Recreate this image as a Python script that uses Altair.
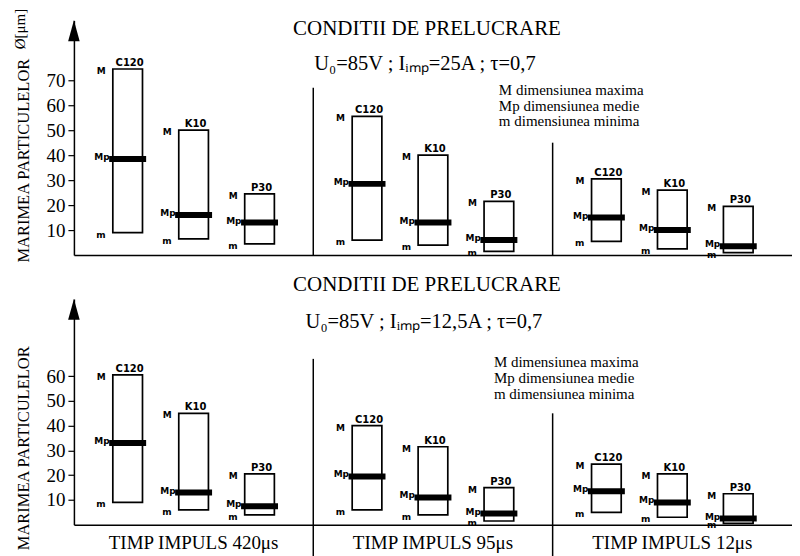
import altair as alt
import pandas as pd

groups = ["TIMP IMPULS 420μs", "TIMP IMPULS 95μs", "TIMP IMPULS 12μs"]
materials = ["C120", "K10", "P30"]

# upper panel, Iimp = 25A ; per group: C120, K10, P30
top_max = [74.5, 50, 24.5, 55.5, 40, 21.5, 30.5, 26, 19.5]
top_med = [38.5, 16, 13, 28.5, 13, 6, 15, 10, 3.5]
top_min = [9, 6.5, 4.5, 6, 4, 1.5, 5.5, 2.5, 1]
# lower panel, Iimp = 12,5A
bot_max = [60.5, 45, 20.5, 40, 31.5, 15, 24.5, 20.5, 12.5]
bot_med = [33, 13, 7.5, 19.5, 11, 4.5, 13.5, 9, 2.5]
bot_min = [9, 6, 4, 6, 4, 1.5, 5, 3, 0.5]

title_text = "CONDITII DE PRELUCRARE"
top_sub = "U₀=85V ; Iᵢₘₚ=25A ; τ=0,7"
bot_sub = "U₀=85V ; Iᵢₘₚ=12,5A ; τ=0,7"
legend_lines = ["M  dimensiunea maxima", "Mp  dimensiunea medie", "m  dimensiunea minima"]
y_title = "MARIMEA PARTICULELOR"
unit_label = "Ø[μm]"
top_ticks = [10, 20, 30, 40, 50, 60, 70]
bot_ticks = [10, 20, 30, 40, 50, 60]
divider_tops = [67, 45]

SERIF = "Liberation Serif"
SANS = "DejaVu Sans"
W = 719


def panel(mx, md, mn, ymax, height, ticks, sub, title_y, sub_y, leg_ys, leg_dx,
          arrow_y, div_bottom, show_labels, ytitle_y, sub_dx, unit_y=None):
    df = pd.DataFrame({
        "group": [g for g in groups for _ in materials],
        "material": materials * 3,
        "max": mx, "med": md, "min": mn,
    })
    xs = alt.Scale(domain=groups, paddingInner=0, paddingOuter=0)
    ys = alt.Scale(domain=[0, ymax], nice=False, zero=False)
    xoff = alt.XOffset("material:N", sort=materials,
                       scale=alt.Scale(domain=materials, paddingInner=0.55, paddingOuter=0.59))
    xaxis = alt.Axis(title=None, domain=True, domainColor="black", domainWidth=1.5,
                     ticks=False, labels=show_labels, labelFont=SERIF, labelFontSize=19,
                     labelColor="black", labelPadding=9, labelAngle=0, grid=False)
    yaxis = alt.Axis(title=y_title, values=ticks, domain=True, domainColor="black",
                     domainWidth=1.5, ticks=True, tickColor="black", tickSize=6,
                     tickWidth=1.2, labelFont=SERIF, labelFontSize=19, labelColor="black",
                     labelPadding=3, grid=False, titleFont=SERIF, titleFontSize=16.5,
                     titleFontWeight="normal", titleColor="black", titlePadding=14,
                     titleY=ytitle_y)

    def X(field="group:N", **kw):
        return alt.X(field, scale=xs, axis=xaxis, sort=groups, **kw)

    def Xd(datum, bp):
        return alt.X(datum=datum, scale=xs, axis=xaxis, bandPosition=bp)

    def Y(field):
        return alt.Y(field, scale=ys, axis=yaxis)

    def Yd(datum):
        return alt.Y(datum=datum, scale=ys, axis=yaxis)

    base = alt.Chart(df)

    bars = base.mark_bar(fill="white", stroke="black", strokeWidth=1.7).encode(
        x=X(), xOffset=xoff, y=Y("max:Q"), y2="min:Q")
    med = base.mark_tick(color="black", thickness=6, size=37, xOffset=2, opacity=1).encode(
        x=X(), xOffset=xoff, y=Y("med:Q"))
    mat = base.mark_text(font=SANS, fontSize=10, fontWeight="bold", baseline="bottom",
                         dy=-1, dx=2, color="black").encode(
        x=X(), xOffset=xoff, y=Y("max:Q"), text="material:N")
    lab_M = base.mark_text(font=SANS, fontSize=9, fontWeight="bold", align="right",
                           baseline="middle", dx=-22, dy=2, color="black").encode(
        x=X(), xOffset=xoff, y=Y("max:Q"), text=alt.value("M"))
    lab_Mp = base.mark_text(font=SANS, fontSize=9, fontWeight="bold", align="right",
                            baseline="bottom", dx=-18, dy=3, color="black").encode(
        x=X(), xOffset=xoff, y=Y("med:Q"), text=alt.value("Mp"))
    lab_m = base.mark_text(font=SANS, fontSize=9, fontWeight="bold", align="right",
                           baseline="top", dx=-22, dy=-2, color="black").encode(
        x=X(), xOffset=xoff, y=Y("min:Q"), text=alt.value("m"))

    div_df = pd.DataFrame({"group": groups[1:], "top": divider_tops,
                           "bottom": [div_bottom] * 2})
    dividers = alt.Chart(div_df).mark_rule(color="black", strokeWidth=1.5).encode(
        x=X(bandPosition=0), y=Y("top:Q"), y2="bottom:Q")

    one = alt.Data(values=[{}])
    arrow = alt.Chart(one).mark_point(shape="M0,-1L0.55,1L-0.55,1Z", size=441,
                                      filled=True, color="black", opacity=1).encode(
        x=Xd(groups[0], 0), y=Yd(arrow_y))

    title = alt.Chart(one).mark_text(font=SERIF, fontSize=21, color="black", dx=-6).encode(
        x=Xd(groups[1], 0.5), y=Yd(title_y), text=alt.value(title_text))
    subt = alt.Chart(one).mark_text(font=SERIF, fontSize=20.5, color="black", dx=sub_dx).encode(
        x=Xd(groups[1], 0.5), y=Yd(sub_y), text=alt.value(sub))

    leg_df = pd.DataFrame({"line": legend_lines, "y": leg_ys})
    legend = alt.Chart(leg_df).mark_text(font=SERIF, fontSize=15, color="black",
                                         align="left", dx=leg_dx).encode(
        x=Xd(groups[1], 0.5), y=Y("y:Q"), text="line:N")

    layers = [bars, med, dividers, arrow, mat, lab_M, lab_Mp, lab_m, title, subt, legend]
    if unit_y is not None:
        unit = alt.Chart(one).mark_text(font=SERIF, fontSize=15, color="black", angle=270,
                                        dy=-54).encode(
            x=Xd(groups[0], 0), y=Yd(unit_y), text=alt.value(unit_label))
        layers.append(unit)
    return alt.layer(*layers).properties(width=W, height=height)


top = panel(top_max, top_med, top_min, ymax=94, height=235, ticks=top_ticks, sub=top_sub,
            title_y=90.4, sub_y=76.4, leg_ys=[66.0, 59.8, 53.6], leg_dx=66,
            arrow_y=89.8, div_bottom=0, show_labels=False, ytitle_y=140, sub_dx=-8,
            unit_y=90.5)
bottom = panel(bot_max, bot_med, bot_min, ymax=91.2, height=226, ticks=bot_ticks, sub=bot_sub,
               title_y=96.7, sub_y=81.8, leg_ys=[65.6, 59.2, 52.8], leg_dx=61,
               arrow_y=87.0, div_bottom=-13.5, show_labels=True, ytitle_y=149, sub_dx=-9)

chart = alt.vconcat(top, bottom, spacing=11).properties(
    padding={"left": 4, "top": 0, "right": 0, "bottom": 0}
).configure_view(stroke=None).configure_axis(
    labelFont=SERIF, titleFont=SERIF
).configure_text(font=SERIF)

chart.save("out.html", embed_options={"renderer": "svg", "actions": False})
